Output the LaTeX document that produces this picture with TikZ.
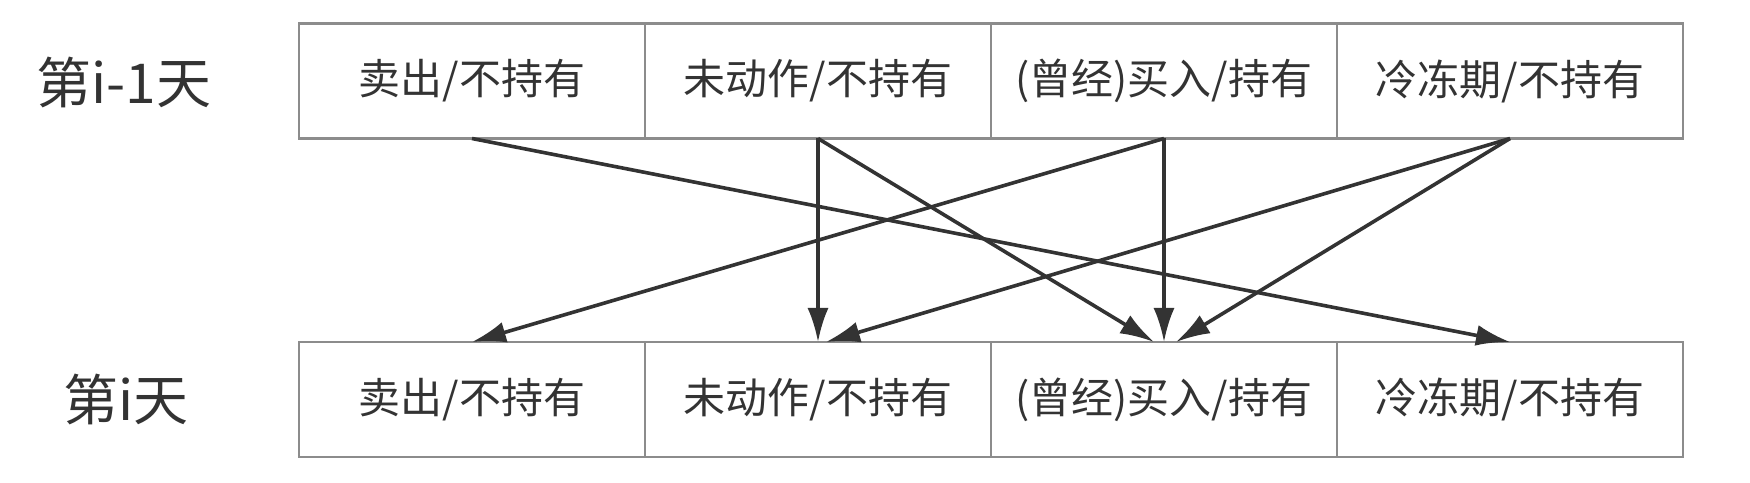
\documentclass[tikz,border=0pt]{standalone}
\usepackage{fontspec}
\setmainfont{Noto Sans CJK SC}
\usepackage{tikz}
\usetikzlibrary{positioning, arrows.meta}
\definecolor{boxgray}{RGB}{140,140,140}
\definecolor{inkgray}{RGB}{51,51,51}
\tikzset{
 block/.style = {
    rectangle, draw=boxgray, line width=1.2pt, fill=white,
    minimum width=173pt,
    minimum height=57.5pt,
    inner sep=0pt, outer sep=0pt,
    text=inkgray, font=\fontsize{21pt}{25pt}\selectfont},
 line/.style = {
    draw=inkgray, line width=1.8pt, -{Latex[length=17pt, width=10.5pt]}},
 day label/.style = {
    text=inkgray, font=\fontsize{27.5pt}{32pt}\selectfont,
 },
}
\begin{document}
\begin{tikzpicture}[node distance=173pt, auto]
\useasboundingbox (0,0) rectangle (875pt,241pt);

    % Place nodes
    \node [day label] at (62pt,200pt)    (prev) {第i-1天};
    \node [day label] at (63pt,41.5pt)   (cur)  {第i天};

    \node [block] at (236pt,200.5pt)     (sella) {卖出/不持有};
    \node [block, right of=sella]        (idlea) {未动作/不持有};
    \node [block, right of=idlea]        (buya)  {(曾经)买入/持有};
    \node [block, right of=buya]         (coola) {冷冻期/不持有};

    \node [block] at (236pt,41.25pt)     (sellb) {卖出/不持有};
    \node [block, right of=sellb]        (idleb) {未动作/不持有};
    \node [block, right of=idleb]        (buyb)  {(曾经)买入/持有};
    \node [block, right of=buyb]         (coolb) {冷冻期/不持有};

    % Transitions
    \draw[line] (sella.south) -- (coolb.north);
    \draw[line] (idlea.south) -- (idleb.north);
    \draw[line] (idlea.south) -- ([xshift=-5pt]buyb.north);
    \draw[line] (buya.south) -- (sellb.north);
    \draw[line] (buya.south) -- (buyb.north);
    \draw[line] (coola.south) -- ([xshift=4pt]idleb.north);
    \draw[line] (coola.south) -- ([xshift=6pt]buyb.north);
\end{tikzpicture}
\end{document}
